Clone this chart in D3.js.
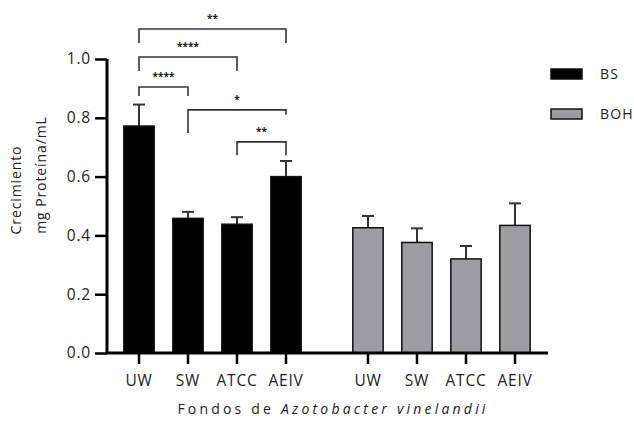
<!DOCTYPE html>
<html><head><meta charset="utf-8">
<script src="https://cdn.jsdelivr.net/npm/d3@7/dist/d3.min.js"></script>
<style>body{margin:0;background:#fff}svg{display:block}</style>
</head><body>
<svg id="chart" width="634" height="421"></svg>
<script>
const groups = ["BS", "BOH"];
const categories = ["UW", "SW", "ATCC", "AEIV"];
const bsMeans = [0.772, 0.458, 0.438, 0.600];
const bsErrTop = [0.845, 0.480, 0.462, 0.653];
const bohMeans = [0.426, 0.376, 0.320, 0.434];
const bohErrTop = [0.466, 0.424, 0.364, 0.509];
const yTicks = [0.0, 0.2, 0.4, 0.6, 0.8, 1.0];
const groupColors = ["#000000", "#9d9c9f"];
// significance: [from, to, bracket level, left leg end, right leg end, label]
const sigFrom = ["UW", "UW", "UW", "SW", "ATCC"];
const sigTo = ["AEIV", "ATCC", "SW", "AEIV", "AEIV"];
const sigLevel = [1.102, 1.007, 0.905, 0.827, 0.718];
const sigLegL = [1.054, 0.959, 0.874, 0.748, 0.673];
const sigLegR = [1.054, 0.959, 0.874, 0.810, 0.673];
const sigLabel = ["**", "****", "****", "*", "**"];

const svg = d3.select("#chart");
const font = "'Open Sans', sans-serif";
const y = d3.scaleLinear().domain([0, 1]).range([353, 59]);
const xg = d3.scaleBand().domain(groups).range([114.5, 539.5]).paddingInner(0.144);
const xc = d3.scaleBand().domain(categories).range([0, xg.bandwidth()]).paddingInner(0.35).paddingOuter(0.175);
const cx = (g, c) => xg(g) + xc(c) + xc.bandwidth() / 2;

const data = [];
groups.forEach((g, gi) => {
  const m = gi === 0 ? bsMeans : bohMeans;
  const e = gi === 0 ? bsErrTop : bohErrTop;
  categories.forEach((c, ci) => data.push({g, gi, c, v: m[ci], e: e[ci]}));
});

// error bars (behind bars)
const eb = svg.append("g").attr("stroke", "#333").attr("stroke-width", 2).attr("fill", "none");
data.forEach(d => {
  const x = cx(d.g, d.c);
  eb.append("line").attr("x1", x).attr("x2", x).attr("y1", y(d.v)).attr("y2", y(d.e));
  eb.append("line").attr("x1", x - 6).attr("x2", x + 6).attr("y1", y(d.e)).attr("y2", y(d.e));
});

// bars
svg.append("g").selectAll("rect").data(data).join("rect")
  .attr("x", d => xg(d.g) + xc(d.c) + 0.75)
  .attr("width", xc.bandwidth() - 1.5)
  .attr("y", d => y(d.v))
  .attr("height", d => y(0) - y(d.v))
  .attr("fill", d => groupColors[d.gi])
  .attr("stroke", "#111").attr("stroke-width", 1.5);

// y axis
const ya = svg.append("g").attr("transform", "translate(107,0)")
  .call(d3.axisLeft(y).tickValues(yTicks).tickFormat(d3.format(".1f")).tickSize(12).tickPadding(4));
ya.select(".domain").attr("stroke", "#000").attr("stroke-width", 3).attr("d", `M0,${y(1)}V${y(0)}`);
ya.selectAll(".tick line").attr("stroke", "#000").attr("stroke-width", 2.5);
ya.selectAll(".tick text").attr("font-family", font).attr("font-size", 15.5).attr("letter-spacing", 0.8).attr("fill", "#222");

// x axis line + ticks
svg.append("line").attr("x1", 105.5).attr("x2", 548).attr("y1", y(0)).attr("y2", y(0))
  .attr("stroke", "#000").attr("stroke-width", 3);
const xt = svg.append("g");
data.forEach(d => {
  const x = cx(d.g, d.c);
  xt.append("line").attr("x1", x).attr("x2", x).attr("y1", y(0)).attr("y2", y(0) + 11)
    .attr("stroke", "#000").attr("stroke-width", 2.5);
  xt.append("text").attr("x", x).attr("y", 386).attr("text-anchor", "middle")
    .attr("font-family", font).attr("font-size", 15.5).attr("letter-spacing", 0.8).attr("fill", "#222").text(d.c);
});

// significance brackets
const sg = svg.append("g");
sigLabel.forEach((lab, i) => {
  const x1 = cx("BS", sigFrom[i]), x2 = cx("BS", sigTo[i]);
  sg.append("path")
    .attr("d", `M${x1},${y(sigLegL[i])}V${y(sigLevel[i])}H${x2}V${y(sigLegR[i])}`)
    .attr("fill", "none").attr("stroke", "#333").attr("stroke-width", 1.6);
  sg.append("text").attr("x", (x1 + x2) / 2).attr("y", y(sigLevel[i]) - 7)
    .attr("text-anchor", "middle").attr("font-family", font).attr("font-weight", "bold")
    .attr("font-size", 10).attr("fill", "#222").text(lab);
});

// legend
const lg = svg.append("g");
groups.forEach((g, i) => {
  const yy = 74 + i * 40;
  lg.append("rect").attr("x", 551).attr("y", yy - 5).attr("width", 31).attr("height", 10)
    .attr("fill", groupColors[i]).attr("stroke", "#111").attr("stroke-width", 1.5);
  lg.append("text").attr("x", 600).attr("y", yy + 5).attr("font-family", font)
    .attr("font-size", 14).attr("letter-spacing", 1.2).attr("fill", "#222").text(g);
});

// axis titles
svg.append("text").attr("transform", "translate(21,190) rotate(-90)").attr("text-anchor", "middle")
  .attr("font-family", font).attr("font-size", 14).attr("letter-spacing", 0.9).attr("fill", "#222")
  .text("Crecimiento");
svg.append("text").attr("transform", "translate(46,175) rotate(-90)").attr("text-anchor", "middle")
  .attr("font-family", font).attr("font-size", 14).attr("letter-spacing", 0.9).attr("fill", "#222")
  .text("mg Proteína/mL");
const xtitle = svg.append("text").attr("x", 333).attr("y", 414).attr("text-anchor", "middle")
  .attr("font-family", font).attr("font-size", 14).attr("letter-spacing", 3.2).attr("fill", "#222");
xtitle.append("tspan").text("Fondos de ");
xtitle.append("tspan").attr("font-style", "italic").text("Azotobacter vinelandii");
</script>
</body></html>
